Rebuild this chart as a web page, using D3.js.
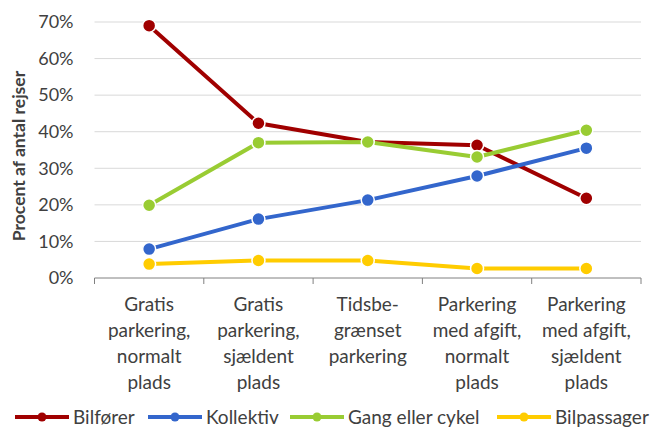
<!DOCTYPE html>
<html>
<head>
<meta charset="utf-8">
<script src="https://cdn.jsdelivr.net/npm/d3@7"></script>
<style>
  body { margin: 0; background: #fff; overflow: hidden; }
  svg { display: block; }
</style>
</head>
<body>
<svg id="chart" width="653" height="430"></svg>
<script>
// categories (x axis), each label split in lines
const categories = [
  ["Gratis", "parkering,", "normalt", "plads"],
  ["Gratis", "parkering,", "sjældent", "plads"],
  ["Tidsbe-", "grænset", "parkering"],
  ["Parkering", "med afgift,", "normalt", "plads"],
  ["Parkering", "med afgift,", "sjældent", "plads"]
];

const seriesNames = ["Bilfører", "Kollektiv", "Gang eller cykel", "Bilpassager"];

// values in percent
const bilforer    = [69.0, 42.3, 37.2, 36.3, 21.8];
const kollektiv   = [7.9, 16.1, 21.3, 27.9, 35.5];
const gangCykel   = [19.9, 37.0, 37.2, 33.1, 40.4];
const bilpassager = [3.8, 4.8, 4.8, 2.6, 2.6];

const yTicks = [0, 10, 20, 30, 40, 50, 60, 70];

const colors = ["#A00000", "#3366CC", "#99CC33", "#FFCC00"];

const seriesValues = [bilforer, kollektiv, gangCykel, bilpassager];

const fontFamily = "Lato, 'Open Sans', sans-serif";
const textColor = "#404040";

const svg = d3.select("#chart");

const margin = { top: 22, left: 94.5, right: 12, bottom: 152 };
const width = 653, height = 430;
const innerWidth = width - margin.left - margin.right;
const innerHeight = height - margin.top - margin.bottom;

const innerChart = svg
  .append("g")
    .attr("transform", `translate(${margin.left}, ${margin.top})`);

const xScale = d3.scaleBand()
  .domain(d3.range(categories.length))
  .range([0, innerWidth]);

const yScale = d3.scaleLinear()
  .domain([0, 70])
  .range([innerHeight, 0]);

// gridlines
innerChart
  .selectAll(".grid")
  .data(yTicks.filter(d => d > 0))
  .join("line")
    .attr("class", "grid")
    .attr("x1", 0)
    .attr("x2", innerWidth)
    .attr("y1", d => yScale(d))
    .attr("y2", d => yScale(d))
    .attr("stroke", "#d9d9d9")
    .attr("stroke-width", 1);

// y axis labels
const yAxis = d3.axisLeft(yScale)
  .tickValues(yTicks)
  .tickFormat(d => d + "%")
  .tickSize(0)
  .tickPadding(21);

innerChart
  .append("g")
    .call(yAxis)
    .call(g => g.select(".domain").remove())
    .selectAll("text")
      .attr("font-family", fontFamily)
      .attr("font-size", 18)
      .attr("fill", textColor);

// x axis line + ticks at band boundaries
const xAxisG = innerChart
  .append("g")
    .attr("transform", `translate(0, ${innerHeight})`);

xAxisG
  .append("line")
    .attr("x1", 0)
    .attr("x2", innerWidth)
    .attr("stroke", "#808080")
    .attr("stroke-width", 1);

xAxisG
  .selectAll(".xtick")
  .data(d3.range(categories.length + 1))
  .join("line")
    .attr("class", "xtick")
    .attr("x1", d => d * xScale.step())
    .attr("x2", d => d * xScale.step())
    .attr("y1", 0)
    .attr("y2", 6)
    .attr("stroke", "#808080");

// category labels, one text per line
categories.forEach((lines, i) => {
  xAxisG
    .selectAll(`.xlabel-${i}`)
    .data(lines)
    .join("text")
      .attr("class", `xlabel-${i}`)
      .attr("text-anchor", "middle")
      .attr("font-family", fontFamily)
      .attr("font-size", 19)
      .attr("fill", textColor)
      .attr("x", xScale(i) + xScale.bandwidth() / 2)
      .attr("y", (d, j) => 33 + j * 26)
      .text(d => d);
});

// y axis title
svg
  .append("text")
    .attr("transform", "translate(25, 156) rotate(-90)")
    .attr("text-anchor", "middle")
    .attr("font-family", fontFamily)
    .attr("font-size", 17.5)
    .attr("font-weight", "bold")
    .attr("fill", textColor)
    .text("Procent af antal rejser");

// lines + markers
const line = d3.line()
  .x((d, i) => xScale(i) + xScale.bandwidth() / 2)
  .y(d => yScale(d));

seriesValues.forEach((vals, s) => {
  innerChart
    .append("path")
      .attr("d", line(vals))
      .attr("fill", "none")
      .attr("stroke", colors[s])
      .attr("stroke-width", 4)
      .attr("stroke-linejoin", "round");

  innerChart
    .selectAll(`.pt-${s}`)
    .data(vals)
    .join("circle")
      .attr("class", `pt-${s}`)
      .attr("cx", (d, i) => xScale(i) + xScale.bandwidth() / 2)
      .attr("cy", d => yScale(d))
      .attr("r", 6.5)
      .attr("fill", colors[s])
      .attr("stroke", "#fff")
      .attr("stroke-width", 1.5);
});

// legend
const legendX = [15, 148, 290, 497];
const legend = svg
  .selectAll(".legend")
  .data(seriesNames)
  .join("g")
    .attr("class", "legend")
    .attr("transform", (d, i) => `translate(${legendX[i]}, 417)`);

legend
  .append("line")
    .attr("x1", 0)
    .attr("x2", 54)
    .attr("stroke", (d, i) => colors[i])
    .attr("stroke-width", 4);

legend
  .append("circle")
    .attr("cx", 27)
    .attr("r", 4.5)
    .attr("fill", (d, i) => colors[i]);

legend
  .append("text")
    .attr("x", 58)
    .attr("dy", "0.35em")
    .attr("font-family", fontFamily)
    .attr("font-size", 19)
    .attr("fill", textColor)
    .text(d => d);
</script>
</body>
</html>
